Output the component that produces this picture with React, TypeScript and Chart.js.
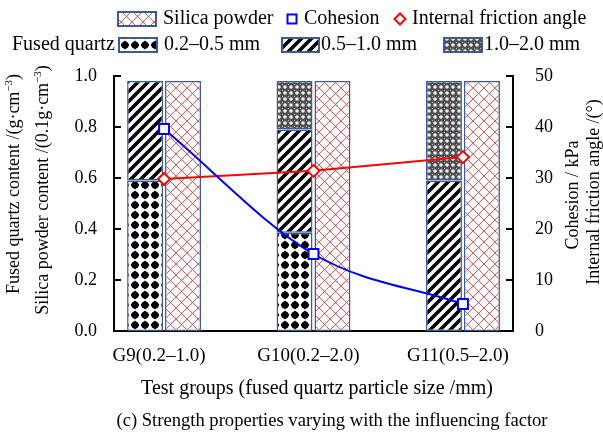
import React, { useEffect, useRef } from "react";
import { Chart, registerables } from "chart.js";
Chart.register(...registerables);

const groups = ["G9(0.2–1.0)", "G10(0.2–2.0)", "G11(0.5–2.0)"];
const fq0205: (number | null)[] = [0.59, 0.385, null];
const fq0510: (number | null)[] = [0.39, 0.405, 0.59];
const fq1020: (number | null)[] = [null, 0.19, 0.39];
const silica = [0.98, 0.98, 0.98];
const cohesion = [39.6, 15.1, 5.3];
const friction = [29.8, 31.4, 34.1];
const leftTicks = [0, 0.2, 0.4, 0.6, 0.8, 1.0];
const rightTicks = [0, 10, 20, 30, 40, 50];

const FONT = '"Liberation Serif", "Times New Roman", serif';
const FS = 18;
const LFS = 20;
const BORDER = "#3c5a96";

function makeTile(w: number, h: number, draw: (c: CanvasRenderingContext2D) => void) {
  const cv = document.createElement("canvas");
  cv.width = w;
  cv.height = h;
  const c = cv.getContext("2d")!;
  c.fillStyle = "#fff";
  c.fillRect(0, 0, w, h);
  draw(c);
  return cv;
}

function makePatterns(ctx: CanvasRenderingContext2D) {
  const silicaTile = makeTile(11, 11, (c) => {
    c.strokeStyle = "rgba(255,50,50,0.85)";
    c.lineWidth = 1;
    c.beginPath();
    c.moveTo(0, 0); c.lineTo(11, 11);
    c.moveTo(11, 0); c.lineTo(0, 11);
    c.stroke();
  });
  const dotsTile = makeTile(10, 10, (c) => {
    c.fillStyle = "#000";
    c.beginPath();
    c.moveTo(5, 0.6); c.lineTo(9.4, 5); c.lineTo(5, 9.4); c.lineTo(0.6, 5); c.closePath();
    c.fill();
    c.beginPath();
    c.arc(5, 5, 3.6, 0, Math.PI * 2);
    c.fill();
  });
  const stripeTile = makeTile(10, 10, (c) => {
    c.strokeStyle = "#000";
    c.lineWidth = 3.6;
    c.beginPath();
    c.moveTo(-5, 5); c.lineTo(5, -5);
    c.moveTo(-1, 11); c.lineTo(11, -1);
    c.moveTo(5, 15); c.lineTo(15, 5);
    c.stroke();
  });
  const fineTile = makeTile(6, 6, (c) => {
    c.fillStyle = "#505050";
    c.fillRect(0, 0, 6, 6);
    c.fillStyle = "#eee";
    c.beginPath();
    c.arc(3, 3, 1.8, 0, Math.PI * 2);
    c.fill();
    c.fillStyle = "#bbb";
    c.fillRect(0, 0, 1, 1);
  });
  return {
    silica: ctx.createPattern(silicaTile, "repeat")!,
    dots: ctx.createPattern(dotsTile, "repeat")!,
    stripes: ctx.createPattern(stripeTile, "repeat")!,
    fine: ctx.createPattern(fineTile, "repeat")!,
  };
}

type Seg = { t: string; sup?: boolean };

function drawRich(ctx: CanvasRenderingContext2D, segs: Seg[], cx: number, cy: number, size: number, rot: number) {
  ctx.save();
  ctx.translate(cx, cy);
  ctx.rotate(rot);
  ctx.fillStyle = "#000";
  ctx.textBaseline = "alphabetic";
  ctx.textAlign = "left";
  let total = 0;
  for (const s of segs) {
    ctx.font = `${s.sup ? Math.round(size * 0.62) : size}px ${FONT}`;
    total += ctx.measureText(s.t).width;
  }
  let x = -total / 2;
  const base = size * 0.33;
  for (const s of segs) {
    ctx.font = `${s.sup ? Math.round(size * 0.62) : size}px ${FONT}`;
    ctx.fillText(s.t, x, s.sup ? base - size * 0.4 : base);
    x += ctx.measureText(s.t).width;
  }
  ctx.restore();
}

function drawText(ctx: CanvasRenderingContext2D, t: string, x: number, y: number, align: CanvasTextAlign = "left", size = FS) {
  ctx.save();
  ctx.font = `${size}px ${FONT}`;
  ctx.fillStyle = "#000";
  ctx.textAlign = align;
  ctx.textBaseline = "middle";
  ctx.fillText(t, x, y);
  ctx.restore();
}

export default function App() {
  const ref = useRef<HTMLCanvasElement>(null);
  useEffect(() => {
    const canvas = ref.current!;
    const ctx = canvas.getContext("2d")!;
    const pats = makePatterns(ctx);

    const pts = (arr: (number | null)[]) => arr.map((v, i) => ({ x: i, y: v }));

    const decor = {
      id: "decor",
      afterDraw(chart: any) {
        const c = chart.ctx as CanvasRenderingContext2D;
        const area = chart.chartArea;
        const y = chart.scales.y;
        const y2 = chart.scales.y2;
        c.save();
        c.strokeStyle = "#000";
        c.lineWidth = 2;
        c.beginPath();
        for (const v of leftTicks) {
          const py = Math.round(y.getPixelForValue(v));
          c.moveTo(area.left, py);
          c.lineTo(area.left + 7, py);
        }
        for (const v of rightTicks) {
          const py = Math.round(y2.getPixelForValue(v));
          c.moveTo(area.right, py);
          c.lineTo(area.right - 7, py);
        }
        c.stroke();
        c.restore();

        // axis titles
        drawRich(c, [{ t: "Fused quartz content /(g·cm" }, { t: "−3", sup: true }, { t: ")" }], 13, 184, FS, -Math.PI / 2);
        drawRich(c, [{ t: "Silica powder content /(0.1g·cm" }, { t: "−3", sup: true }, { t: ")" }], 42, 190, FS, -Math.PI / 2);
        drawRich(c, [{ t: "Cohesion / kPa" }], 572, 195, FS, -Math.PI / 2);
        drawRich(c, [{ t: "Internal friction angle /(°)" }], 593, 192, FS, -Math.PI / 2);

        drawText(c, "Test groups (fused quartz particle size /mm)", 317, 389, "center", 20);
        drawText(c, "(c) Strength properties varying with the influencing factor", 332, 421, "center", 18.6);

        // legend
        const swatch = (x: number, yy: number, w: number, h: number, fill: any) => {
          c.save();
          c.fillStyle = fill;
          c.fillRect(x, yy, w, h);
          c.strokeStyle = BORDER;
          c.lineWidth = 2;
          c.strokeRect(x, yy, w, h);
          c.restore();
        };
        const r1 = 19;
        const r2 = 45;
        swatch(118, r1 - 7, 38, 14, pats.silica);
        drawText(c, "Silica powder", 163, r1, "left", LFS);
        c.save();
        c.strokeStyle = "#0000ff";
        c.lineWidth = 2;
        c.fillStyle = "#fff";
        c.fillRect(287.5, r1 - 4.5, 9, 9);
        c.strokeRect(287.5, r1 - 4.5, 9, 9);
        c.strokeStyle = "#ff0000";
        c.beginPath();
        c.moveTo(400, r1 - 5.5); c.lineTo(405.5, r1); c.lineTo(400, r1 + 5.5); c.lineTo(394.5, r1); c.closePath();
        c.fill();
        c.stroke();
        c.restore();
        drawText(c, "Cohesion", 304, r1, "left", LFS);
        drawText(c, "Internal friction angle", 412, r1, "left", LFS);

        drawText(c, "Fused quartz", 12, r2, "left", LFS);
        swatch(119, r2 - 7, 38, 14, pats.dots);
        drawText(c, "0.2–0.5 mm", 164, r2, "left", LFS);
        swatch(282, r2 - 7, 37, 14, pats.stripes);
        drawText(c, "0.5–1.0 mm", 321, r2, "left", LFS);
        swatch(444, r2 - 7, 38, 14, pats.fine);
        drawText(c, "1.0–2.0 mm", 484, r2, "left", LFS);
      },
    };

    const barCommon = {
      type: "bar" as const,
      borderColor: BORDER,
      borderWidth: 1.5,
      borderSkipped: false,
      categoryPercentage: 0.508,
      barPercentage: 0.947,
      yAxisID: "y",
      order: 2,
    };

    const chart = new Chart(canvas, {
      type: "bar",
      data: {
        datasets: [
          { ...barCommon, label: "0.2–0.5 mm", data: pts(fq0205), backgroundColor: pats.dots, stack: "fq" },
          { ...barCommon, label: "0.5–1.0 mm", data: pts(fq0510), backgroundColor: pats.stripes, stack: "fq" },
          { ...barCommon, label: "1.0–2.0 mm", data: pts(fq1020), backgroundColor: pats.fine, stack: "fq" },
          { ...barCommon, label: "Silica powder", data: pts(silica), backgroundColor: pats.silica, stack: "si" },
          {
            type: "line" as const,
            label: "Internal friction angle",
            data: pts(friction),
            yAxisID: "y2",
            borderColor: "#ff0000",
            borderWidth: 2,
            pointStyle: "rectRot",
            pointRadius: 6,
            pointBorderWidth: 2,
            pointBackgroundColor: "#fff",
            pointBorderColor: "#ff0000",
            tension: 0,
            order: 1,
          },
          {
            type: "line" as const,
            label: "Cohesion",
            data: pts(cohesion),
            yAxisID: "y2",
            borderColor: "#0000ff",
            borderWidth: 2,
            pointStyle: "rect",
            pointRadius: 7,
            pointBorderWidth: 2,
            pointBackgroundColor: "#fff",
            pointBorderColor: "#0000ff",
            cubicInterpolationMode: "monotone",
            order: 0,
          },
        ] as any,
      },
      options: {
        animation: false,
        responsive: false,
        events: [],
        layout: { padding: { top: 76, left: 0, right: 0, bottom: 0 } },
        plugins: { legend: { display: false }, tooltip: { enabled: false } },
        scales: {
          x: {
            type: "linear",
            offset: false,
            min: -0.335,
            max: 2.335,
            grid: { display: false, drawTicks: false, offset: false },
            border: { display: true, color: "#000", width: 2 },
            afterBuildTicks: (s: any) => {
              s.ticks = groups.map((_, i) => ({ value: i }));
            },
            afterFit: (s: any) => {
              s.height = 101;
            },
            ticks: {
              padding: 14,
              labelOffset: -5,
              color: "#000",
              maxRotation: 0,
              autoSkip: false,
              font: { family: FONT, size: 19 },
              callback: (v: any) => groups[Math.round(Number(v))] ?? "",
            },
          },
          y: {
            type: "linear",
            position: "left",
            stacked: true,
            min: 0,
            max: 1,
            grid: { display: false, drawTicks: false },
            border: { display: true, color: "#000", width: 2 },
            afterBuildTicks: (s: any) => {
              s.ticks = leftTicks.map((v) => ({ value: v }));
            },
            afterFit: (s: any) => {
              s.width = 114;
            },
            ticks: {
              padding: 17,
              color: "#000",
              font: { family: FONT, size: FS },
              callback: (v: any) => Number(v).toFixed(1),
            },
          },
          y2: {
            type: "linear",
            position: "right",
            min: 0,
            max: 50,
            grid: { display: false, drawTicks: false },
            border: { display: true, color: "#000", width: 2 },
            afterBuildTicks: (s: any) => {
              s.ticks = rightTicks.map((v) => ({ value: v }));
            },
            afterFit: (s: any) => {
              s.width = 90;
            },
            ticks: {
              padding: 22,
              color: "#000",
              font: { family: FONT, size: FS },
              callback: (v: any) => String(v),
            },
          },
        },
      } as any,
      plugins: [decor],
    });
    return () => chart.destroy();
  }, []);

  return (
    <canvas
      ref={ref}
      width={603}
      height={432}
      style={{ position: "absolute", left: 0, top: 0, width: 603, height: 432, background: "#fff" }}
    />
  );
}
